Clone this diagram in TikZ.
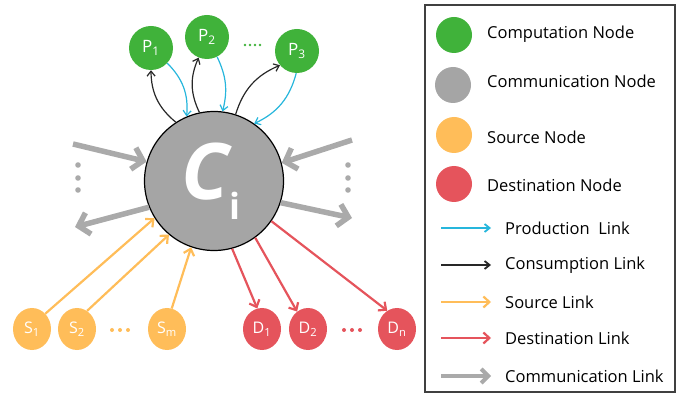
\documentclass[tikz,border=0pt]{standalone}
\usepackage{fontspec}
\setmainfont{Open Sans}
\usetikzlibrary{arrows.meta,shapes.geometric}

\definecolor{compgreen}{RGB}{64,178,58}
\definecolor{commgray}{RGB}{165,165,165}
\definecolor{srcorange}{RGB}{255,189,89}
\definecolor{dstred}{RGB}{229,84,92}
\definecolor{prodcyan}{RGB}{38,182,220}
\definecolor{consblack}{RGB}{40,40,40}
\definecolor{linkgray}{RGB}{170,170,170}

\begin{document}
\begin{tikzpicture}[x=1pt,y=-1pt,
    compnode/.style={circle,fill=compgreen,minimum size=44pt,inner sep=0pt,text=white,font=\fontsize{17}{17}\selectfont},
    srcnode/.style={ellipse,fill=srcorange,minimum width=38pt,minimum height=42pt,inner sep=0pt,text=white,font=\fontsize{16}{16}\selectfont},
    dstnode/.style={ellipse,fill=dstred,minimum width=38pt,minimum height=42pt,inner sep=0pt,text=white,font=\fontsize{16}{16}\selectfont},
    commnode/.style={circle,fill=commgray,draw=black,line width=1.2pt,minimum size=139pt,inner sep=0pt,text=white},
    keydot/.style={circle,minimum size=36pt,inner sep=0pt},
    keytext/.style={anchor=west,inner sep=0pt,font=\fontsize{16.5}{16.5}\selectfont},
    prodlink/.style={-{Straight Barb[length=5pt,width=8pt]},prodcyan,line width=1.2pt},
    conslink/.style={-{Straight Barb[length=5pt,width=8pt]},consblack,line width=1.2pt},
    srclink/.style={-{Straight Barb[length=6pt,width=11pt]},srcorange,line width=2.2pt},
    dstlink/.style={-{Straight Barb[length=6pt,width=11pt]},dstred,line width=2.2pt},
    commlink/.style={-{Straight Barb[length=10pt,width=22pt]},linkgray,line width=5.5pt}]

\useasboundingbox (0,0) rectangle (694,398);

% communication node
\node[commnode] (c) at (214,181) {\hspace*{-6pt}{\fontsize{78}{78}\selectfont\bfseries\itshape C}\raisebox{-20pt}{\fontsize{36}{36}\selectfont\bfseries i}};

% computation nodes
\node[compnode] (p1) at (151,48) {P\textsubscript{1}};
\node[compnode] (p2) at (207,37) {P\textsubscript{2}};
\node[compnode] (p3) at (297,51) {P\textsubscript{3}};
\foreach \x in {245,250,255,260}
    \fill[compgreen] (\x,45) circle (1.4);

% consumption / production links
\draw[conslink] (c.123) to[bend left=25] (p1.270);
\draw[prodlink] (p1.317) to[bend left=25] (c.113);
\draw[conslink] (c.102) to[bend left=25] (p2.248);
\draw[prodlink] (p2.297) to[bend left=20] (c.83);
\draw[conslink] (c.72) to[bend left=25] (p3.220);
\draw[prodlink] (p3.268) to[bend left=25] (c.55);

% communication links
\coordinate (ginl) at (73,144);
\coordinate (goutl) at (75,227);
\coordinate (ginr) at (352,140);
\coordinate (goutr) at (352,218);
\draw[commlink] (ginl) -- (c.164);
\draw[commlink] (c.202) -- (goutl);
\draw[commlink] (ginr) -- (c.15);
\draw[commlink] (c.342) -- (goutr);
\foreach \y in {165,178,190} {
    \fill[linkgray] (78,\y) circle (2.8);
    \fill[linkgray] (348,\y) circle (2.8);
}

% source nodes
\node[srcnode] (s1) at (32,329) {S\textsubscript{1}};
\node[srcnode] (s2) at (77,329) {S\textsubscript{2}};
\node[srcnode] (sm) at (167,329) {S\textsubscript{m}};
\foreach \x in {112,120,128}
    \fill[srcorange] (\x,330) circle (2);
\draw[srclink] (s1.49) -- (c.212);
\draw[srclink] (s2.61) -- (c.230);
\draw[srclink] (sm.77) -- (c.251);

% destination nodes
\node[dstnode] (d1) at (262,329) {D\textsubscript{1}};
\node[dstnode] (d2) at (308,329) {D\textsubscript{2}};
\node[dstnode] (dn) at (397,329) {D\textsubscript{n}};
\foreach \x in {344,352,360}
    \fill[dstred] (\x,330) circle (2);
\draw[dstlink] (c.285) -- (d1.103);
\draw[dstlink] (c.306) -- (d2.122);
\draw[dstlink] (c.325) -- (dn.118);

% legend
\draw[line width=1.3pt,black!75] (425,5) rectangle (675,392);
\node[keydot,fill=compgreen] (kcomp) at (454,35) {};
\node[keydot,fill=commgray] (kcomm) at (453,85) {};
\node[keydot,fill=srcorange] (ksrc) at (454,135) {};
\node[keydot,fill=dstred] (kdst) at (454,184) {};
\node[keytext] (tcomp) at (487,34) {Computation Node};
\node[keytext] (tcomm) at (487,81) {Communication Node};
\node[keytext] (tsrc) at (487,137) {Source Node};
\node[keytext] (tdst) at (487,185) {Destination Node};

\coordinate (kp1) at (441,228); \coordinate (kp2) at (491,228);
\coordinate (kc1) at (441,265); \coordinate (kc2) at (491,265);
\coordinate (ks1) at (441,302); \coordinate (ks2) at (491,302);
\coordinate (kd1) at (441,338); \coordinate (kd2) at (491,338);
\coordinate (kg1) at (441,376); \coordinate (kg2) at (491,376);
\draw[prodlink,line width=1.8pt] (kp1) -- (kp2);
\draw[conslink,line width=1.8pt] (kc1) -- (kc2);
\draw[srclink] (ks1) -- (ks2);
\draw[dstlink] (kd1) -- (kd2);
\draw[commlink,line width=4pt,-{Straight Barb[length=7pt,width=14pt]}] (kg1) -- (kg2);
\node[keytext] (tprod) at (505,228) {Production\ \ Link};
\node[keytext] (tcons) at (505,265) {Consumption Link};
\node[keytext] (tsrcl) at (505,302) {Source Link};
\node[keytext] (tdstl) at (505,338) {Destination Link};
\node[keytext] (tcoml) at (505,376) {Communication Link};

\end{tikzpicture}
\end{document}
